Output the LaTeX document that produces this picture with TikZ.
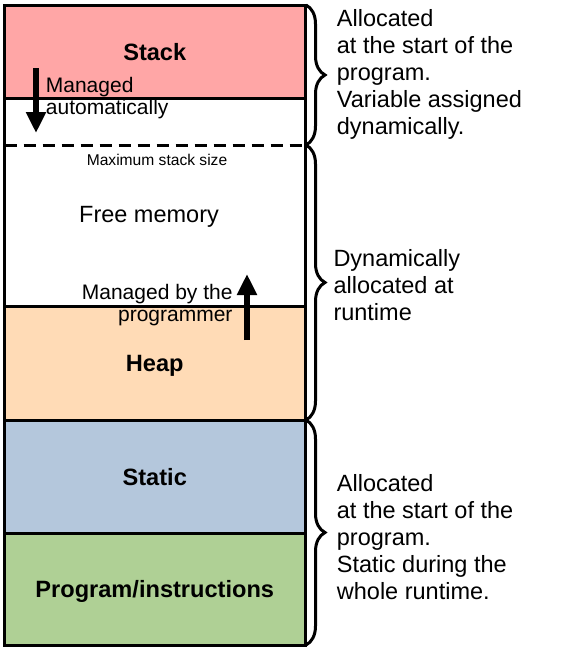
\documentclass[tikz,border=0pt]{standalone}
\usepackage{fontspec}
\setmainfont{Liberation Sans}
\usepackage{tikz}
\usetikzlibrary{arrows.meta, positioning, decorations.pathreplacing}

\definecolor{stackred}{HTML}{FFA6A6}
\definecolor{heappeach}{HTML}{FFDBB6}
\definecolor{staticblue}{HTML}{B4C7DC}
\definecolor{progreen}{HTML}{AFD095}

\begin{document}
\begin{tikzpicture}[x=1pt, y=-1pt,
        region/.style={rectangle, draw, line width=3pt, minimum width=300.5pt, inner sep=0pt, outer sep=0pt, text height=17pt, text depth=0pt, font=\bfseries\fontsize{23.6}{27}\selectfont},
        note/.style={align=left, anchor=base west, inner sep=0pt, font=\fontsize{23.5}{27}\selectfont},
        hint/.style={inner sep=0pt, font=\fontsize{21}{22.5}\selectfont},
        growarrow/.style={line width=5.5pt, -{Triangle[width=19pt, length=21pt]}},
        membrace/.style={decorate, decoration={brace, amplitude=19pt}, line width=3pt}]
    \useasboundingbox (0,0) rectangle (569,649);

    % memory regions, top to bottom
    \node (stack) [region, fill=stackred, minimum height=93.3pt] at (154.75,51.65) {Stack};
    \node (free) [region, minimum height=208.4pt, below=0pt of stack] {};
    \node (heap) [region, fill=heappeach, minimum height=113.3pt, below=0pt of free] {Heap};
    \node (static) [region, fill=staticblue, minimum height=113.5pt, below=0pt of heap] {Static};
    \node (prog) [region, fill=progreen, minimum height=111.5pt, below=0pt of static] {Program/instructions};

    % stack limit
    \coordinate (limitw) at (4.5,145);
    \coordinate (limite) at (305,145);
    \draw[line width=3pt, dash pattern=on 12pt off 7pt] (limitw) -- (limite);
    \node (maxsize) [anchor=base, inner sep=0pt, font=\fontsize{15.6}{18}\selectfont] at (157,165) {Maximum stack size};
    \node (freemem) [anchor=base, inner sep=0pt, font=\fontsize{23.5}{27}\selectfont] at (149,222.5) {Free memory};

    % growth directions (base = last line)
    \coordinate (stktail) at (36,68);
    \coordinate (stkhead) at (36,133);
    \draw[growarrow] (stktail) -- (stkhead);
    \node (stkhint) [hint, align=left, anchor=base west] at (45.7,114.5) {Managed\\automatically};

    \coordinate (heaptail) at (247,340);
    \coordinate (heaphead) at (247,274);
    \draw[growarrow] (heaptail) -- (heaphead);
    \node (heaphint) [hint, align=right, anchor=base east] at (232.7,321.5) {Managed by the\\programmer};

    % braces and notes
    \draw[membrace] ([xshift=1pt]stack.north east) -- ([xshift=1pt]limite);
    \draw[membrace] ([xshift=1pt]limite) -- ([xshift=1pt]heap.south east);
    \draw[membrace] ([xshift=1pt]static.north east) -- ([xshift=1pt]prog.south east);

    \node (stacknote) [note] at (336.7,134.7) {Allocated\\at the start of the\\program.\\Variable assigned\\dynamically.};
    \node (dynnote) [note] at (333.3,320.7) {Dynamically\\allocated at\\runtime};
    \node (staticnote) [note] at (336.7,599.7) {Allocated\\at the start of the\\program.\\Static during the\\whole runtime.};
\end{tikzpicture}
\end{document}
